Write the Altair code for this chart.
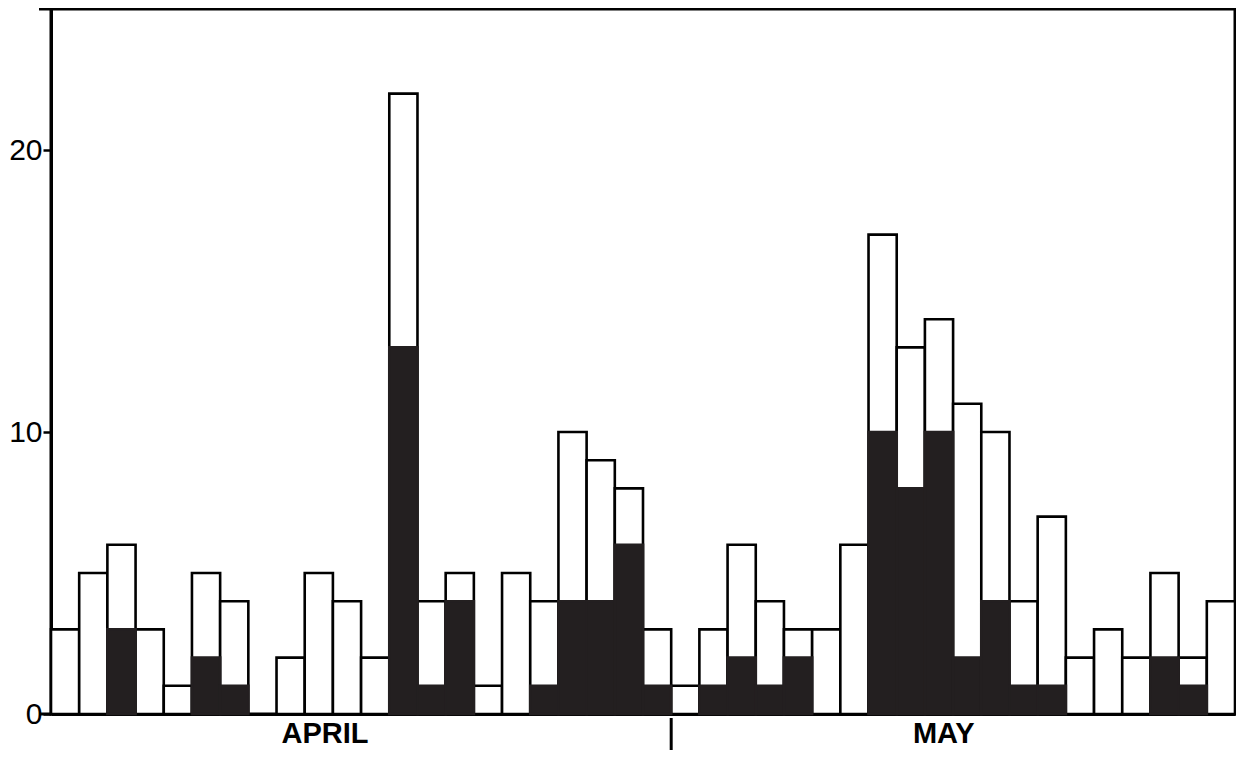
import altair as alt
import pandas as pd

# Daily counts (total bar height) and the black (shaded) part of each bar
totals = [3, 5, 6, 3, 1, 5, 4, 0, 2, 5, 4, 2, 22, 4, 5, 1, 5, 4, 10, 9, 8, 3,
          1, 3, 6, 4, 3, 3, 6, 17, 13, 14, 11, 10, 4, 7, 2, 3, 2, 5, 2, 4]
black = [0, 0, 3, 0, 0, 2, 1, 0, 0, 0, 0, 0, 13, 1, 4, 0, 0, 1, 4, 4, 6, 1,
         0, 1, 2, 1, 2, 0, 0, 10, 8, 10, 2, 4, 1, 1, 0, 0, 0, 2, 1, 0]

months = ["APRIL", "MAY"]
month_pos = [9.72, 31.67]
month_break = [22]

y_ticks = [0, 10, 20]

n = len(totals)
df = pd.DataFrame({
    "start": list(range(n)),
    "end": [i + 1 for i in range(n)],
    "total": totals,
    "black": black,
})
df_months = pd.DataFrame({"month": months, "pos": month_pos})
df_break = pd.DataFrame({"pos": month_break})

W, H = 1184, 705

xscale = alt.Scale(domain=[0, n], nice=False, zero=False)
yscale = alt.Scale(domain=[0, 25], nice=False)

base = alt.Chart(df)

white_bars = base.transform_filter("datum.total > 0").mark_bar(
    fill="white", stroke="black", strokeWidth=2.6
).encode(
    x=alt.X("start:Q", scale=xscale,
            axis=alt.Axis(labels=False, ticks=False, grid=False, title=None,
                          domain=True, domainColor="black", domainWidth=3)),
    x2="end:Q",
    y=alt.Y("total:Q", scale=yscale,
            axis=alt.Axis(values=y_ticks, grid=False, title=None,
                          tickSize=8, tickWidth=2.5, tickColor="black",
                          domainColor="black", domainWidth=3,
                          labelFontSize=30, labelColor="black",
                          labelFont="Liberation Sans", labelPadding=1)),
    y2=alt.datum(0),
)

black_bars = base.transform_filter("datum.black > 0").mark_bar(
    fill="#231f20", stroke="#231f20", strokeWidth=2.6
).encode(
    x=alt.X("start:Q", scale=xscale),
    x2="end:Q",
    y=alt.Y("black:Q", scale=yscale),
    y2=alt.datum(0),
)

month_text = alt.Chart(df_months).mark_text(
    font="Liberation Sans", fontWeight="bold", fontSize=29, color="black",
    baseline="bottom", align="center"
).encode(
    x=alt.X("pos:Q", scale=xscale),
    y=alt.value(H + 35),
    text="month:N",
)

divider = alt.Chart(df_break).mark_rule(color="black", strokeWidth=3).encode(
    x=alt.X("pos:Q", scale=xscale),
    y=alt.value(H + 4),
    y2=alt.value(H + 36),
)

# short extensions of the frame's top and bottom lines left of the y axis
one = pd.DataFrame({"k": [0]})
ext_top = alt.Chart(one).mark_rule(color="black", strokeWidth=3).encode(
    x=alt.value(-12), x2=alt.value(0), y=alt.value(0)
)
ext_bottom = alt.Chart(one).mark_rule(color="black", strokeWidth=3).encode(
    x=alt.value(-12), x2=alt.value(0), y=alt.value(H)
)

chart = alt.layer(white_bars, black_bars, month_text, divider, ext_top, ext_bottom).properties(
    width=W, height=H,
    padding={"left": 43, "top": 1, "right": 1, "bottom": 36},
    autosize=alt.AutoSizeParams(type="none"),
    background="white",
).configure_view(stroke="black", strokeWidth=3)

chart.save("out.html", embed_options={"renderer": "svg", "actions": False})
